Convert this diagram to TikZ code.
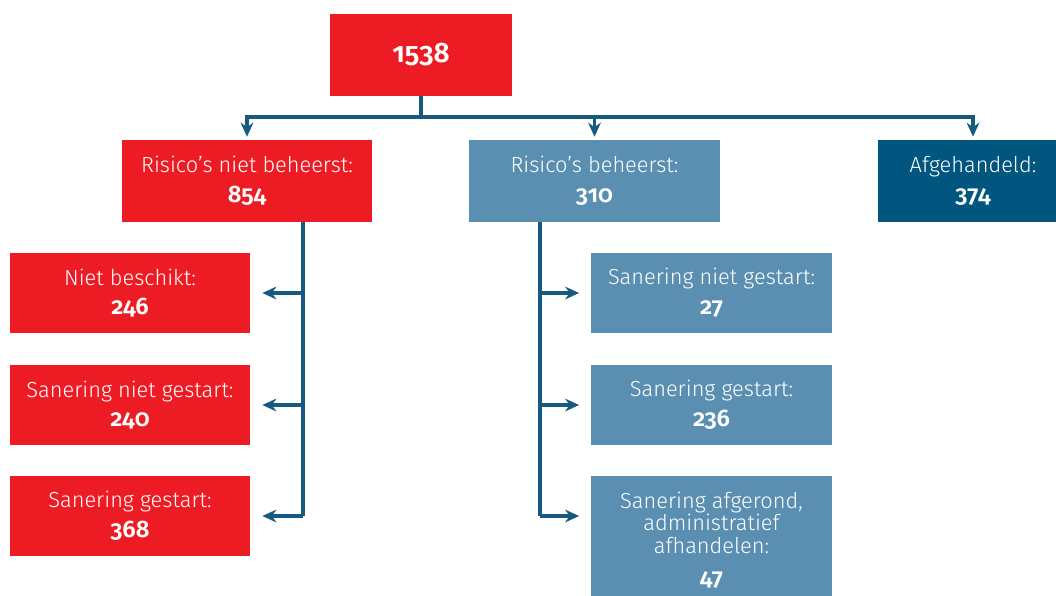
\documentclass[tikz,border=0pt]{standalone}
\usepackage{fontspec}
\setmainfont{Fira Sans}[UprightFont={* Light}, BoldFont={* SemiBold}, Numbers=OldStyle]
\usetikzlibrary{positioning}
\usetikzlibrary{arrows.meta}

\definecolor{rood}{HTML}{ED1C24}
\definecolor{lichtblauw}{HTML}{5A8FB1}
\definecolor{donkerblauw}{HTML}{00567F}
\definecolor{lijnkleur}{HTML}{175A80}

\tikzset{
  doos/.style={draw=none, text=white, align=center, inner sep=0pt,
    font=\fontsize{15.5}{16}\selectfont},
  hoofd/.style={doos, minimum width=6.25cm, minimum height=2.05cm},
  sub/.style={doos, minimum width=6cm, minimum height=2cm},
  lijn/.style={draw=lijnkleur, line width=2.8pt},
  pijl/.style={lijn, -{Stealth[length=10pt, width=9pt]}},
}
\newcommand{\getal}[1]{\fontsize{17}{17}\selectfont\bfseries #1}

\begin{document}
\begin{tikzpicture}[x=0.025cm, y=-0.025cm]
            \useasboundingbox (0,0) rectangle (1056,595);
            \clip (0,0) rectangle (1056,595);
            % Nodos
            \node[doos, fill=rood, minimum width=4.55cm, minimum height=2.05cm] (totaal) at (421,55)
              {\fontsize{20}{22}\selectfont\bfseries 1538};
            \node[hoofd, fill=rood] (niet) at (247,181) {Risico’s niet beheerst:\\[5pt]\getal{854}};
            \node[hoofd, fill=lichtblauw] (beheerst) at (594.5,181) {Risico’s beheerst:\\[5pt]\getal{310}};
            \node[hoofd, fill=donkerblauw, minimum width=4.75cm] (afgehandeld) at (973,181) {Afgehandeld:\\[5pt]\getal{374}};

            \node[sub, fill=rood] (beschikt) at (130,293) {Niet beschikt:\\[5pt]\getal{246}};
            \node[sub, fill=rood] (nietgestart) at (130,405) {Sanering niet gestart:\\[5pt]\getal{240}};
            \node[sub, fill=rood] (gestart) at (130,516) {Sanering gestart:\\[5pt]\getal{368}};

            \node[sub, fill=lichtblauw] (bnietgestart) at (711.5,293) {Sanering niet gestart:\\[5pt]\getal{27}};
            \node[sub, fill=lichtblauw] (bgestart) at (711.5,405) {Sanering gestart:\\[5pt]\getal{236}};
            \node[sub, fill=lichtblauw, minimum height=3.2cm] (afgerond) at (711.5,540)
              {Sanering afgerond,\\administratief\\afhandelen:\\[7pt]\getal{47}};

            \coordinate (bus) at (421,117);
            \coordinate (links) at (303,516);
            \coordinate (rechts) at (540,516);

            % Aristas
            \draw[lijn] (totaal) -- (bus);
            \draw[pijl, shorten >=0.075cm] (bus) -| (niet);
            \draw[pijl, shorten >=0.075cm] (bus) -| (beheerst);
            \draw[pijl, shorten >=0.075cm] (bus) -| (afgehandeld);

            \draw[lijn] (niet.south -| links) -- (links);
            \draw[pijl, shorten >=0.3cm] (beschikt -| links) -- (beschikt.east);
            \draw[pijl, shorten >=0.3cm] (nietgestart -| links) -- (nietgestart.east);
            \draw[pijl, shorten >=0.3cm] (links) -- (gestart.east);

            \draw[lijn] (beheerst.south -| rechts) -- (rechts);
            \draw[pijl, shorten >=0.3cm] (bnietgestart -| rechts) -- (bnietgestart.west);
            \draw[pijl, shorten >=0.3cm] (bgestart -| rechts) -- (bgestart.west);
            \draw[pijl, shorten >=0.3cm] (rechts) -- (rechts -| afgerond.west);
          \end{tikzpicture}
\end{document}
